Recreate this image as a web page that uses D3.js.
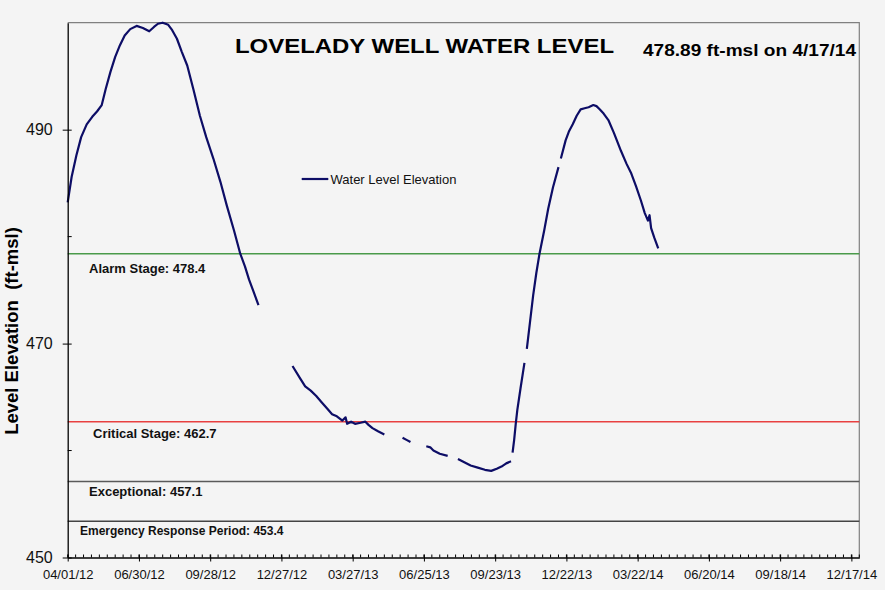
<!DOCTYPE html>
<html>
<head>
<meta charset="utf-8">
<script src="https://cdn.jsdelivr.net/npm/d3@7"></script>
<style>
  html, body { margin: 0; padding: 0; background: #f4f4f4; }
  svg { display: block; font-family: "Liberation Sans", Arial, sans-serif; }
</style>
</head>
<body>
<div id="chart"></div>
<script>
// readings (m/d/yy, ft-msl); null = no data (gap in the line)
var dates = [
  "4/1/12","4/6/12","4/12/12","4/18/12","4/25/12","5/2/12","5/8/12","5/14/12","5/19/12","5/25/12",
  "5/31/12","6/6/12","6/12/12","6/19/12","6/27/12","7/5/12","7/13/12","7/19/12","7/24/12","7/30/12",
  "8/6/12","8/11/12","8/17/12","8/23/12","8/30/12","9/7/12","9/15/12","9/23/12","10/2/12","10/11/12",
  "10/19/12","10/28/12","11/5/12","11/11/12","11/16/12","11/22/12","11/28/12","12/20/12",
  "1/10/13","1/20/13","1/26/13","2/2/13","2/9/13","2/16/13","2/23/13","3/1/13","3/7/13","3/14/13",
  "3/18/13","3/20/13","3/25/13","3/30/13","4/6/13","4/12/13","4/16/13","4/21/13","4/28/13","5/6/13","5/15/13",
  "5/29/13","6/3/13","6/8/13","6/20/13",
  "6/28/13","7/3/13","7/7/13","7/15/13","7/25/13","7/31/13",
  "8/7/13","8/15/13","8/23/13","9/1/13","9/10/13","9/18/13","9/25/13","10/1/13","10/7/13","10/13/13","10/14/13",
  "10/15/13","10/17/13","10/19/13","10/21/13","10/25/13","10/30/13","10/31/13",
  "11/2/13","11/6/13","11/10/13","11/14/13","11/18/13","11/24/13","11/29/13","12/5/13","12/12/13","12/13/13",
  "12/15/13","12/21/13","12/25/13","12/30/13","1/4/14","1/9/14","1/14/14","1/19/14","1/25/14","1/29/14",
  "2/2/14","2/7/14","2/13/14","2/20/14","3/1/14","3/8/14","3/14/14","3/20/14","3/26/14","3/31/14",
  "4/4/14","4/6/14","4/8/14","4/12/14","4/17/14"
];
var levels = [
  483.2,485.6,487.6,489.3,490.5,491.2,491.7,492.3,493.8,495.4,
  496.8,497.9,498.8,499.4,499.7,499.5,499.2,499.6,499.9,500.0,
  499.8,499.3,498.5,497.3,496.0,493.7,491.3,489.3,487.3,485.1,
  482.9,480.6,478.4,477.2,476.0,474.8,473.6,null,
  467.9,466.7,466.0,465.6,465.1,464.5,463.9,463.4,463.2,462.8,
  463.1,462.5,462.7,462.5,462.6,462.7,462.4,462.1,461.8,461.5,null,
  461.2,461.0,460.8,null,
  460.4,460.3,460.0,459.7,459.5,null,
  459.2,458.9,458.6,458.4,458.2,458.1,458.3,458.5,458.8,459.0,null,
  459.8,461.0,462.5,463.8,465.8,468.2,null,
  469.5,472.0,474.5,476.6,478.4,480.6,482.6,484.6,486.5,null,
  487.3,489.0,489.8,490.5,491.3,491.9,492.0,492.1,492.3,492.2,
  491.9,491.5,490.9,489.7,488.0,486.8,485.9,484.7,483.4,482.2,
  481.5,482.0,480.8,479.9,478.9
];

var xTickLabels = ["04/01/12","06/30/12","09/28/12","12/27/12","03/27/13","06/25/13",
                   "09/23/13","12/22/13","03/22/14","06/20/14","09/18/14","12/17/14"];
var xStart = "04/01/12", xEnd = "12/27/14";
var yTickLabels = [450, 470, 490];
var yMinorTicks = [460, 480];

var stageNames = ["Alarm Stage", "Critical Stage", "Exceptional", "Emergency Response Period"];
var stageLevels = [478.4, 462.7, 457.1, 453.4];

var titleText = "LOVELADY WELL WATER LEVEL";
var latestText = "478.89 ft-msl on 4/17/14";
var seriesName = "Water Level Elevation";
var yTitle = "Level Elevation  (ft-msl)";

// layout
var W = 885, H = 590;
var plot = { left: 67.7, top: 22.7, right: 859.3, bottom: 557.5 };
var lineColor = "#0d0d66";
var stageStyle = [
  { color: "#4a9a4a", lx: 89, dy: 19.5, size: 13 },
  { color: "#e84040", lx: 93, dy: 16.8, size: 13 },
  { color: "#5a5a5a", lx: 89, dy: 14.2, size: 13 },
  { color: "#444444", lx: 80, dy: 13.8, size: 12 }
];

var parseShort = d3.utcParse("%m/%d/%y");
var parseDate = function (s) {
  var p = s.split("/");
  return new Date(Date.UTC(2000 + (+p[2]), +p[0] - 1, +p[1]));
};

var data = dates.map(function (d, i) { return { date: parseDate(d), v: levels[i] }; });

var svg = d3.select("#chart").append("svg")
  .attr("width", W).attr("height", H);

svg.append("rect").attr("width", W).attr("height", H).attr("fill", "#f4f4f4");

var x = d3.scaleUtc()
  .domain([parseShort(xStart), parseShort(xEnd)])
  .range([plot.left, plot.right]);

var y = d3.scaleLinear()
  .domain([450, 500])
  .range([plot.bottom, plot.top]);

// frame (top/right grey)
svg.append("path")
  .attr("d", "M" + plot.left + "," + plot.top + "H" + plot.right + "V" + plot.bottom)
  .attr("fill", "none").attr("stroke", "#808080").attr("stroke-width", 1.2);

// stage lines
stageLevels.forEach(function (v, i) {
  var st = stageStyle[i];
  svg.append("line")
    .attr("x1", plot.left).attr("x2", plot.right)
    .attr("y1", y(v)).attr("y2", y(v))
    .attr("stroke", st.color).attr("stroke-width", 1.5);
  svg.append("text")
    .attr("x", st.lx).attr("y", y(v) + st.dy)
    .attr("font-size", st.size).attr("font-weight", "bold")
    .attr("fill", "#111")
    .text(stageNames[i] + ": " + v);
});

// water level line
var line = d3.line()
  .defined(function (d) { return d.v != null; })
  .x(function (d) { return x(d.date); })
  .y(function (d) { return y(d.v); });

svg.append("path")
  .datum(data)
  .attr("d", line)
  .attr("fill", "none")
  .attr("stroke", lineColor)
  .attr("stroke-width", 2.2)
  .attr("stroke-linejoin", "round");

// x axis: minor ticks every 10 days inside, major ticks crossing
var minorX = d3.range(0, 1001, 10).map(function (n) { return d3.utcDay.offset(parseShort(xStart), n); });
var gx = svg.append("g").attr("transform", "translate(0," + plot.bottom + ")");
gx.selectAll("line.minor").data(minorX).join("line")
  .attr("x1", function (d) { return x(d); }).attr("x2", function (d) { return x(d); })
  .attr("y1", 0).attr("y2", -3)
  .attr("stroke", "#000").attr("stroke-width", 1);
gx.call(d3.axisBottom(x)
    .tickValues(xTickLabels.map(parseShort))
    .tickFormat(d3.utcFormat("%m/%d/%y"))
    .tickSizeInner(4).tickSizeOuter(0).tickPadding(8))
  .call(function (g) {
    g.select(".domain").attr("stroke", "#000").attr("stroke-width", 1.3);
    g.selectAll(".tick line").attr("y1", -3).attr("stroke", "#000");
    g.selectAll(".tick text").attr("font-size", 13).attr("font-family", null).attr("fill", "#111");
  });

// y axis
var gy = svg.append("g").attr("transform", "translate(" + plot.left + ",0)");
gy.call(d3.axisLeft(y)
    .tickValues(yTickLabels)
    .tickFormat(d3.format("d"))
    .tickSizeInner(5).tickSizeOuter(0).tickPadding(10))
  .call(function (g) {
    g.select(".domain").attr("stroke", "#000").attr("stroke-width", 1.3);
    g.selectAll(".tick line").attr("x2", 4).attr("x1", -5).attr("stroke", "#000");
    g.selectAll(".tick text").attr("font-size", 16).attr("font-family", null).attr("fill", "#111");
  });
gy.selectAll("line.minor").data(yMinorTicks).join("line")
  .attr("x1", 0).attr("x2", 4)
  .attr("y1", function (d) { return y(d); }).attr("y2", function (d) { return y(d); })
  .attr("stroke", "#000");

// y title
svg.append("text")
  .attr("transform", "translate(17.5,331) rotate(-90)")
  .attr("text-anchor", "middle")
  .attr("font-size", 18.5).attr("font-weight", "bold")
  .style("white-space", "pre")
  .attr("fill", "#000")
  .text(yTitle);

// titles
svg.append("text")
  .attr("x", 235).attr("y", 53.3)
  .attr("font-size", 21).attr("font-weight", "bold")
  .attr("textLength", 379).attr("lengthAdjust", "spacingAndGlyphs")
  .attr("fill", "#000")
  .text(titleText);

svg.append("text")
  .attr("x", 643).attr("y", 55.7)
  .attr("font-size", 17).attr("font-weight", "bold")
  .attr("textLength", 213).attr("lengthAdjust", "spacingAndGlyphs")
  .attr("fill", "#000")
  .text(latestText);

// legend
svg.append("line")
  .attr("x1", 301.7).attr("x2", 328.3).attr("y1", 179).attr("y2", 179)
  .attr("stroke", lineColor).attr("stroke-width", 2.2);
svg.append("text")
  .attr("x", 330.5).attr("y", 184)
  .attr("font-size", 13).attr("fill", "#111")
  .text(seriesName);
</script>
</body>
</html>
